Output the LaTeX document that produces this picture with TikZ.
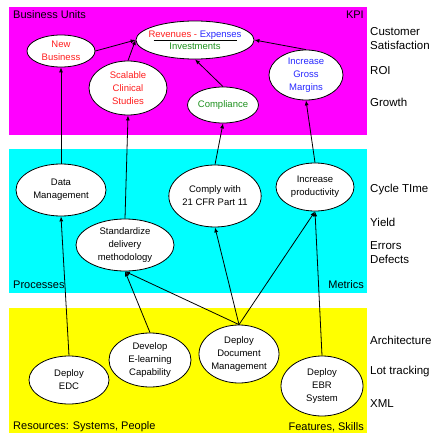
\documentclass[tikz,border=0pt]{standalone}
\usepackage{fontspec}
\setmainfont{Liberation Sans}
\usepackage{tikz}
\usetikzlibrary{shapes.geometric,arrows.meta}
\definecolor{bandmag}{RGB}{255,0,255}
\definecolor{bandcyan}{RGB}{0,255,255}
\definecolor{bandyel}{RGB}{255,255,0}
\definecolor{kpired}{RGB}{255,30,30}
\definecolor{kpiblue}{RGB}{40,40,255}
\definecolor{kpigreen}{RGB}{30,145,30}

\begin{document}
\begin{tikzpicture}[y=-1pt,x=1pt,
	bubble/.style={ellipse,draw,fill=white,inner sep=0pt,line width=0.8pt,align=center,font=\fontsize{9.5}{13}\selectfont},
	tag/.style={inner sep=0pt,anchor=west,align=left,font=\fontsize{11.5}{14}\selectfont},
	corner/.style={inner sep=0pt,font=\fontsize{11}{13}\selectfont},
	link/.style={-{Latex[length=5pt,width=4pt]},line width=0.8pt}]

	\useasboundingbox (0,0) rectangle (436,433);

	\fill[bandmag] (9,7) rectangle (367,135);
	\fill[bandcyan] (9,149) rectangle (367,293);
	\fill[bandyel] (9,308) rectangle (367,433);

	\node[corner,anchor=west] (units) at (13,15) {Business Units};
	\node[corner,anchor=east] (kpilbl) at (364,15) {KPI};
	\node[corner,anchor=west] (proc) at (13,285) {Processes};
	\node[corner,anchor=east] (metr) at (364,285) {Metrics};
	\node[corner,anchor=west] (res) at (13,427) {Resources: Systems, People};
	\node[corner,anchor=east] (feat) at (364,427) {Features, Skills};

	\node[tag] (csat) at (370,39) {Customer\\Satisfaction};
	\node[tag] (roi) at (370,71) {ROI};
	\node[tag] (growth) at (370,102) {Growth};
	\node[tag] (cycle) at (370,190) {Cycle TIme};
	\node[tag] (yield) at (370,222) {Yield};
	\node[tag] (errs) at (370,252.5) {Errors\\Defects};
	\node[tag] (arch) at (370,340) {Architecture};
	\node[tag] (lot) at (370,372) {Lot tracking};
	\node[tag] (xml) at (370,404) {XML};

	\node[bubble,inner xsep=-6pt,minimum width=118pt,minimum height=38pt] (kpi) at (195,40)
		{\textcolor{kpired}{Revenues -} \textcolor{kpiblue}{Expenses}\\[-9pt]\textcolor{black}{\rule{83pt}{0.8pt}}\\[-5pt]\textcolor{kpigreen}{Investments}};
	\node[bubble,text=kpired,minimum width=68pt,minimum height=32pt] (newbiz) at (61,51) {New\\Business};
	\node[bubble,text=kpired,minimum width=78pt,minimum height=54pt] (scal) at (128,88) {Scalable\\Clinical\\Studies};
	\node[bubble,text=kpigreen,minimum width=70pt,minimum height=36pt] (compl) at (223,105) {Compliance};
	\node[bubble,text=kpiblue,minimum width=74pt,minimum height=50pt] (gross) at (306,75) {Increase\\Gross\\Margins};

	\node[bubble,minimum width=90pt,minimum height=52pt] (datam) at (61,190) {Data\\Management};
	\node[bubble,minimum width=86pt,minimum height=62pt] (comply) at (215,196) {Comply with\\21 CFR Part 11};
	\node[bubble,minimum width=78pt,minimum height=48pt] (prod) at (315,187) {Increase\\productivity};
	\node[bubble,minimum width=98pt,minimum height=52pt] (stand) at (125,245) {Standardize\\delivery\\methodology};

	\node[bubble,minimum width=80pt,minimum height=48pt] (edc) at (69,380) {Deploy\\EDC};
	\node[bubble,minimum width=82pt,minimum height=54pt] (elearn) at (150,360) {Develop\\E-learning\\Capability};
	\node[bubble,minimum width=80pt,minimum height=58pt] (docm) at (239,354) {Deploy\\Document\\Management};
	\node[bubble,minimum width=82pt,minimum height=60pt] (ebr) at (322,386) {Deploy\\EBR\\System};

	\draw[link] (newbiz.east) -- (kpi.west);
	\draw[link] (scal.north) -- (kpi.west);
	\draw[link] (compl.north) -- (kpi.south);
	\draw[link] (gross.north) -- (kpi.east);

	\draw[link] (datam.north) -- (newbiz.south);
	\draw[link] (stand.north) -- (scal.south);
	\draw[link] (comply.north) -- (compl.south);
	\draw[link] (prod.north) -- (gross.south);

	\draw[link] (edc.north) -- (datam.south);
	\draw[link] (elearn.north) -- (stand.south);
	\draw[link] (docm.north) -- (stand.south);
	\draw[link] (docm.north) -- (comply.south);
	\draw[link] (docm.north) -- (prod.south);
	\draw[link] (ebr.north) -- (prod.south);
\end{tikzpicture}
\end{document}
